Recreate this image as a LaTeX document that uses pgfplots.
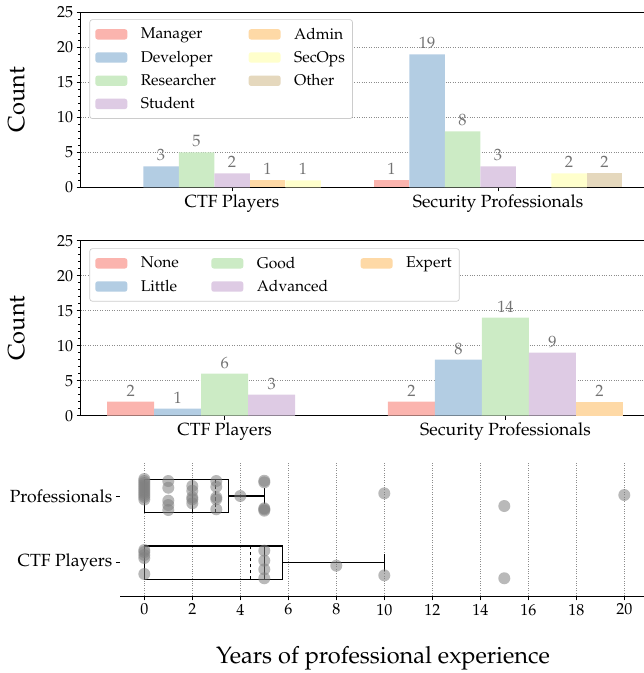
\documentclass[border=0pt]{standalone}
\usepackage[T1]{fontenc}
\usepackage{mathpazo}
\usepackage{pgfplots}
\pgfplotsset{compat=1.18}
\usepgfplotslibrary{statistics}

\definecolor{cA}{HTML}{FBB4AE}
\definecolor{cB}{HTML}{B3CDE3}
\definecolor{cC}{HTML}{CCEBC5}
\definecolor{cD}{HTML}{DECBE4}
\definecolor{cE}{HTML}{FED9A6}
\definecolor{cF}{HTML}{FFFFCC}
\definecolor{cG}{HTML}{E5D8BD}

\pgfplotsset{
  barax/.style={
    width=566.3pt, height=175pt, scale only axis,
    ymin=0, ymax=25,
    ytick={0,5,10,15,20,25},
    minor y tick num=4,
    xtick={0,1},
    xticklabels={CTF Players,Security Professionals},
    xtick pos=left, ytick pos=left,
    tick align=outside,
    major tick length=4pt, minor tick length=2.2pt,
    tick style={black, line width=0.8pt},
    axis line style={line width=0.9pt},
    ymajorgrids,
    grid style={black!45, line width=0.6pt, dash pattern=on 1pt off 1.4pt},
    x tick label style={font=\fontsize{17.6}{21}\selectfont},
    y tick label style={font=\fontsize{16}{19}\selectfont},
    ylabel={Count},
    ylabel style={font=\fontsize{23.6}{28}\selectfont, at={(axis description cs:-0.1134,0.5)}, anchor=center},
    every node near coord/.append style={font=\fontsize{16.4}{19}\selectfont, text=black!55, inner sep=0pt, anchor=south, yshift=5pt},
    legend cell align=left,
    legend image code/.code={\fill[##1, draw=none] (0pt,-5.2pt) rectangle (32pt,5.2pt);},
    legbox/.style={
      draw=black!20, fill=white, rounded corners=2.5pt, line width=0.7pt,
      font=\fontsize{15.6}{18}\selectfont,
      inner xsep=5.5pt, inner ysep=6.3pt, row sep=6.4pt,
      /tikz/every odd column/.append style={column sep=11.5pt},
      /tikz/every even column/.append style={column sep=30.5pt}},
  },
}

\begin{document}
\begin{tikzpicture}
\useasboundingbox (0pt,0pt) rectangle (644pt,673pt);

% ---------------- top: roles ----------------
\begin{axis}[barax,
  at={(80.7pt,485.7pt)}, anchor=south west,
  xmin=-0.569, xmax=1.560,
  legend columns=2,
  legend style={legbox, at={(0.0155,0.96)}, anchor=north west},
]
% Manager, Developer, Researcher, Student, Admin, SecOps, Other
\addplot[ybar, bar width=35.5pt, bar shift=0pt, fill=cA, draw=none, forget plot, nodes near coords] coordinates {(0.5995,1)};
\addplot[ybar, bar width=35.5pt, bar shift=0pt, fill=cB, draw=none, forget plot, nodes near coords] coordinates {(-0.267,3) (0.733,19)};
\addplot[ybar, bar width=35.5pt, bar shift=0pt, fill=cC, draw=none, forget plot, nodes near coords] coordinates {(-0.1335,5) (0.8665,8)};
\addplot[ybar, bar width=35.5pt, bar shift=0pt, fill=cD, draw=none, forget plot, nodes near coords] coordinates {(0,2) (1,3)};
\addplot[ybar, bar width=35.5pt, bar shift=0pt, fill=cE, draw=none, forget plot, nodes near coords] coordinates {(0.1335,1)};
\addplot[ybar, bar width=35.5pt, bar shift=0pt, fill=cF, draw=none, forget plot, nodes near coords] coordinates {(0.267,1) (1.267,2)};
\addplot[ybar, bar width=35.5pt, bar shift=0pt, fill=cG, draw=none, forget plot, nodes near coords] coordinates {(1.4005,2)};
\addlegendimage{fill=cA}\addlegendentry{Manager}
\addlegendimage{fill=cE}\addlegendentry{Admin}
\addlegendimage{fill=cB}\addlegendentry{Developer}
\addlegendimage{fill=cF}\addlegendentry{SecOps}
\addlegendimage{fill=cC}\addlegendentry{Researcher}
\addlegendimage{fill=cG}\addlegendentry{Other}
\addlegendimage{fill=cD}\addlegendentry{Student}
\end{axis}

% ---------------- middle: skill ----------------
\begin{axis}[barax,
  at={(80.7pt,257.3pt)}, anchor=south west,
  xmin=-0.5125, xmax=1.504,
  legend columns=3,
  legend style={legbox, at={(0.0155,0.9566)}, anchor=north west},
]
% None, Little, Good, Advanced, Expert
\addplot[ybar, bar width=47pt, bar shift=0pt, fill=cA, draw=none, forget plot, nodes near coords] coordinates {(-0.3348,2) (0.6652,2)};
\addplot[ybar, bar width=47pt, bar shift=0pt, fill=cB, draw=none, forget plot, nodes near coords] coordinates {(-0.1674,1) (0.8326,8)};
\addplot[ybar, bar width=47pt, bar shift=0pt, fill=cC, draw=none, forget plot, nodes near coords] coordinates {(0,6) (1,14)};
\addplot[ybar, bar width=47pt, bar shift=0pt, fill=cD, draw=none, forget plot, nodes near coords] coordinates {(0.1674,3) (1.1674,9)};
\addplot[ybar, bar width=47pt, bar shift=0pt, fill=cE, draw=none, forget plot, nodes near coords] coordinates {(1.3348,2)};
\addlegendimage{fill=cA}\addlegendentry{None}
\addlegendimage{fill=cC}\addlegendentry{Good}
\addlegendimage{fill=cE}\addlegendentry{Expert}
\addlegendimage{fill=cB}\addlegendentry{Little}
\addlegendimage{fill=cD}\addlegendentry{Advanced}
\end{axis}

% ---------------- bottom: experience ----------------
\begin{axis}[
  at={(120.3pt,77pt)}, anchor=south west,
  width=525.6pt, height=133.3pt, scale only axis,
  xmin=-1, xmax=20.9, ymin=-0.5, ymax=1.5,
  axis lines*=left,
  x axis line style={-, line width=0.9pt},
  y axis line style={draw=none},
  xtick={0,2,...,20}, ytick={0,1},
  yticklabels={CTF Players,Professionals},
  tick align=outside, major tick length=4.5pt,
  tick style={black, line width=0.8pt},
  xmajorgrids,
  grid style={black!45, line width=0.6pt, dash pattern=on 1pt off 1.4pt},
  x tick label style={font=\fontsize{16}{19}\selectfont},
  y tick label style={font=\fontsize{17.6}{21}\selectfont},
  xlabel={Years of professional experience},
  xlabel style={font=\fontsize{23.6}{28}\selectfont, at={(axis description cs:0.5,0)}, anchor=base, yshift=-67pt},
  boxplot/draw direction=x,
]
\addplot[black, line width=1.1pt, boxplot prepared={lower whisker=0, lower quartile=0, median=2, upper quartile=3.5, upper whisker=5, draw position=1, box extend=0.5, whisker extend=0.25}] coordinates {};
\addplot[black, line width=1.1pt, boxplot prepared={lower whisker=0, lower quartile=0, median=5, upper quartile=5.75, upper whisker=10, draw position=0, box extend=0.5, whisker extend=0.25}] coordinates {};
\addplot[black, line width=1.1pt, dash pattern=on 3.5pt off 2.5pt] coordinates {(2.97,0.75) (2.97,1.25)};
\addplot[black, line width=1.1pt, dash pattern=on 3.5pt off 2.5pt] coordinates {(4.42,-0.25) (4.42,0.25)};
\addplot[only marks, mark=*, mark size=6pt, gray, draw opacity=0, fill opacity=0.55, mark options={draw opacity=0, fill=gray, fill opacity=0.55}] table {
x y
0 1.255
0 1.225
0 1.195
0 1.165
0 1.135
0 1.105
0 1.075
0 1.045
0 1.015
0 0.985
0 0.948
1 1.225
1 1.124
1 0.930
1 0.865
1 0.790
2 1.150
2 1.079
2 0.981
2 0.951
2 0.891
3 1.225
3 1.139
3 0.981
3 0.951
3 0.801
4 1.000
5 1.229
5 1.205
5 0.816
5 0.780
5 0.800
10 1.040
15 0.850
20 1.015
0 0.190
0 0.160
0 0.115
0 0.070
0 -0.170
5 0.180
5 0.030
5 -0.100
5 -0.234
8 -0.045
10 -0.190
15 -0.234
};
\end{axis}
\end{tikzpicture}
\end{document}
